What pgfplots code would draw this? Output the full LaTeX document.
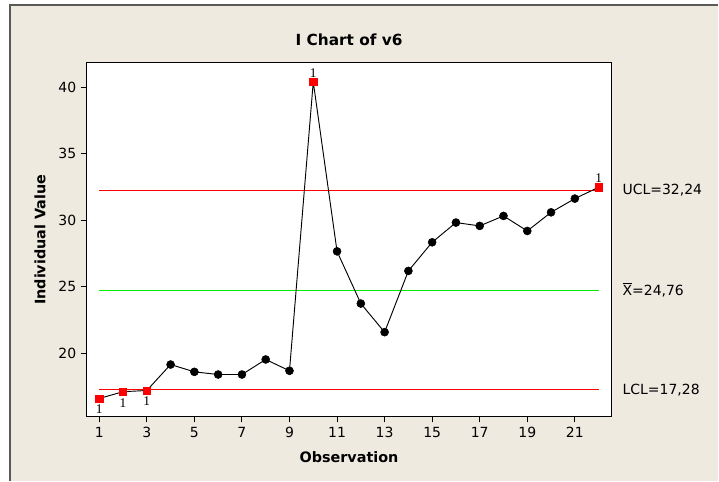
\documentclass[border=0pt]{standalone}
\usepackage{fontspec}
\setmainfont{DejaVu Sans}
\newfontfamily\flagfont{Liberation Serif}
\usepackage{pgfplots}
\pgfplotsset{compat=1.18}

\definecolor{panel}{HTML}{EEEAE0}
\definecolor{framegray}{HTML}{5A5A5A}
\definecolor{oocred}{HTML}{FF0000}
\definecolor{cgreen}{HTML}{00EE00}

% individual values, observation 1..22
\pgfplotstableread{
obs val
1  16.62
2  17.13
3  17.22
4  19.17
5  18.62
6  18.42
7  18.42
8  19.55
9  18.70
10 40.40
11 27.67
12 23.75
13 21.60
14 26.20
15 28.35
16 29.83
17 29.58
18 30.33
19 29.20
20 30.60
21 31.63
22 32.48
}\ivals

\begin{document}
\begin{tikzpicture}
\fill[white] (0,0) rectangle (539.25pt,361.5pt);
\fill[panel] (7.9pt,0) rectangle (539.25pt,357pt);
\draw[framegray,line width=0.9pt] (7.5pt,0) -- (7.5pt,357.6pt);
\draw[framegray,line width=1.4pt] (7.0pt,357.6pt) -- (539.25pt,357.6pt);

\node[font=\bfseries\fontsize{11.5}{13}\selectfont] at (262.1pt,331.5pt) {I Chart of v6};
\node[font=\bfseries\fontsize{10.8}{12}\selectfont,rotate=90] at (30pt,181.5pt) {Individual Value};
\node[font=\bfseries\fontsize{10.8}{12}\selectfont] at (262.1pt,18.5pt) {Observation};

\begin{axis}[
    at={(65.25pt,48.75pt)}, anchor=south west,
    width=393.75pt, height=265.5pt, scale only axis,
    xmin=0.48, xmax=22.53, ymin=15.27, ymax=41.82,
    axis background/.style={fill=white},
    axis line style={black, line width=0.8pt},
    xtick={1,3,...,21}, ytick={20,25,30,35,40},
    xtick pos=bottom, ytick pos=left,
    tick align=outside, major tick length=4.5pt,
    tick style={black, line width=0.7pt},
    ticklabel style={font=\fontsize{10.5}{12}\selectfont},
    /pgf/number format/assume math mode=true,
    clip=false,
]
% control limits: LCL, centre line, UCL
\addplot[color=oocred, line width=1.2pt, mark=none] coordinates {(1,17.28) (22,17.28)};
\addplot[color=cgreen, line width=0.8pt, mark=none] coordinates {(1,24.76) (22,24.76)};
\addplot[color=oocred, line width=0.8pt, mark=none] coordinates {(1,32.24) (22,32.24)};

% data line
\addplot[black, line width=0.7pt, mark=none] table[x=obs, y=val] {\ivals};
% in-control points
\addplot[only marks, mark=*, mark size=3pt, black] coordinates {
(4,19.17) (5,18.62) (6,18.42) (7,18.42) (8,19.55) (9,18.70)
(11,27.67) (12,23.75) (13,21.60) (14,26.20) (15,28.35) (16,29.83)
(17,29.58) (18,30.33) (19,29.20) (20,30.60) (21,31.63)};
% out-of-control points, flag below
\addplot[only marks, mark=square*, mark size=2.7pt, oocred,
    nodes near coords={1}, every node near coord/.append style={black, anchor=north, yshift=-1.5pt, font=\flagfont\fontsize{10}{11}\selectfont}]
    coordinates {(1,16.62) (2,17.13) (3,17.22)};
% out-of-control points, flag above
\addplot[only marks, mark=square*, mark size=2.7pt, oocred,
    nodes near coords={1}, every node near coord/.append style={black, anchor=south, yshift=0pt, font=\flagfont\fontsize{10}{11}\selectfont}]
    coordinates {(10,40.40) (22,32.48)};

\node[anchor=west, font=\fontsize{10.5}{12}\selectfont, xshift=5pt] at (axis cs:22.53,32.24) {UCL=32,24};
\node[anchor=west, font=\fontsize{10.5}{12}\selectfont, xshift=5pt] at (axis cs:22.53,24.76) {$\overline{\mbox{X}}$=24,76};
\node[anchor=west, font=\fontsize{10.5}{12}\selectfont, xshift=5pt] at (axis cs:22.53,17.28) {LCL=17,28};
\end{axis}
\end{tikzpicture}
\end{document}
